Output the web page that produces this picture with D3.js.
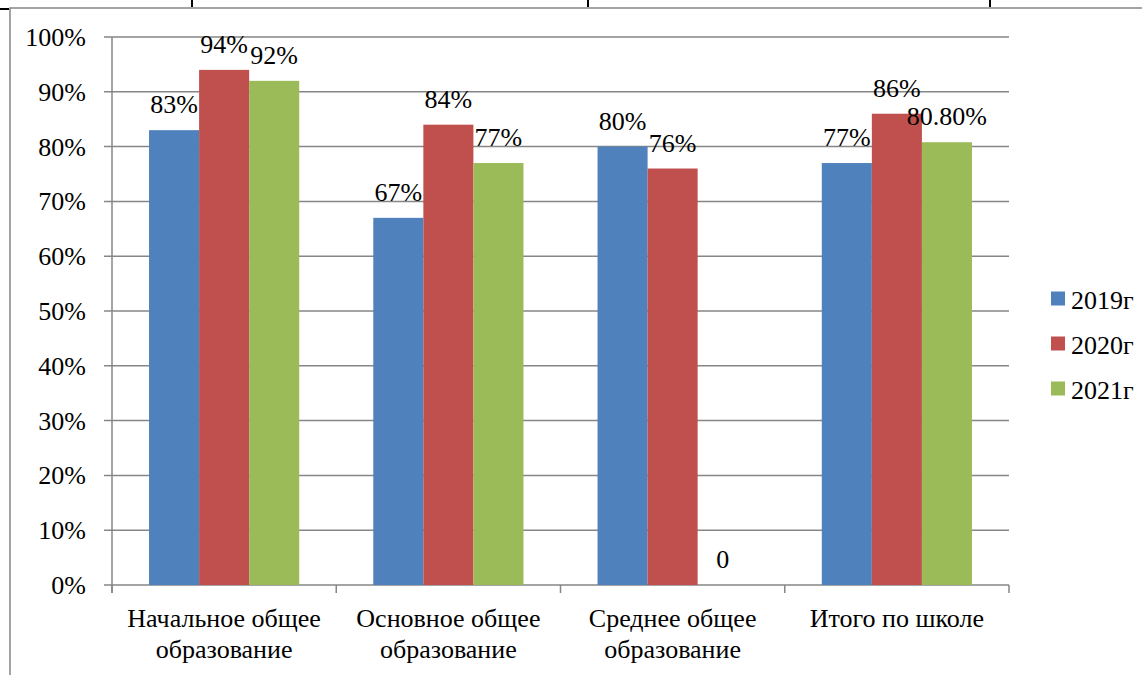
<!DOCTYPE html>
<html>
<head>
    <meta charset="utf-8">
    <title>Chart</title>
    <script src="https://d3js.org/d3.v7.min.js"></script>
    <style>
        body { margin: 0; background: #fff; }
        text {
            font-family: "Times New Roman", "Liberation Serif", serif;
            font-size: 26px;
            fill: #000;
        }
    </style>
</head>
<body>
    <div id="svg_container"></div>
    <script>
        const width = 1142;
        const height = 675;

        // data
        const categories = ["Начальное общее образование", "Основное общее образование", "Среднее общее образование", "Итого по школе"];
        const categoryLines = [["Начальное общее", "образование"], ["Основное общее", "образование"], ["Среднее общее", "образование"], ["Итого по школе"]];
        const seriesNames = ["2019г", "2020г", "2021г"];
        const values2019 = [0.83, 0.67, 0.80, 0.77];
        const values2020 = [0.94, 0.84, 0.76, 0.86];
        const values2021 = [0.92, 0.77, 0, 0.808];
        const labels2019 = ["83%", "67%", "80%", "77%"];
        const labels2020 = ["94%", "84%", "76%", "86%"];
        const labels2021 = ["92%", "77%", "0", "80.80%"];
        const yTicks = [0, 0.1, 0.2, 0.3, 0.4, 0.5, 0.6, 0.7, 0.8, 0.9, 1.0];

        const colors = ["#4f81bd", "#c0504d", "#9bbb59"];
        const allValues = [values2019, values2020, values2021];
        const allLabels = [labels2019, labels2020, labels2021];

        const svg = d3.select("#svg_container")
            .append("svg")
            .attr("width", width)
            .attr("height", height);

        // frame and table borders
        svg.append("rect")
            .attr("x", 10).attr("y", 8)
            .attr("width", width + 20).attr("height", height + 20)
            .attr("fill", "none")
            .attr("stroke", "#868686")
            .attr("stroke-width", 1.5);

        svg.append("line").attr("x1", 0).attr("x2", 9).attr("y1", 9).attr("y2", 9)
            .attr("stroke", "#000").attr("stroke-width", 2);
        [192, 588, 990].forEach(x => {
            svg.append("line").attr("x1", x).attr("x2", x).attr("y1", 0).attr("y2", 7)
                .attr("stroke", "#000").attr("stroke-width", 2);
        });

        const plotLeft = 112, plotRight = 1009, plotTop = 37, plotBottom = 585;

        const y = d3.scaleLinear().domain([0, 1]).range([plotBottom, plotTop]);
        const x0 = d3.scaleBand().domain(categories).range([plotLeft, plotRight]);
        const x1 = d3.scaleBand().domain(seriesNames).range([0, x0.bandwidth()]).paddingOuter(0.74);

        // gridlines
        svg.append("g")
            .selectAll("line")
            .data(yTicks)
            .enter()
            .append("line")
            .attr("x1", plotLeft - 8)
            .attr("x2", plotRight)
            .attr("y1", d => y(d))
            .attr("y2", d => y(d))
            .attr("stroke", "#868686")
            .attr("stroke-width", 1.5);

        // y axis
        svg.append("line")
            .attr("x1", plotLeft).attr("x2", plotLeft)
            .attr("y1", plotTop).attr("y2", plotBottom + 8)
            .attr("stroke", "#868686").attr("stroke-width", 1.5);

        svg.append("g")
            .selectAll("text")
            .data(yTicks)
            .enter()
            .append("text")
            .attr("x", 86)
            .attr("y", d => y(d) + 9)
            .attr("text-anchor", "end")
            .text(d => d3.format(".0%")(d));

        // x axis ticks at category boundaries
        const boundaries = categories.map(c => x0(c)).concat([plotRight]);
        svg.append("g")
            .selectAll("line")
            .data(boundaries)
            .enter()
            .append("line")
            .attr("x1", d => d).attr("x2", d => d)
            .attr("y1", plotBottom).attr("y2", plotBottom + 8)
            .attr("stroke", "#868686").attr("stroke-width", 1.5);

        // bars
        seriesNames.forEach((s, si) => {
            svg.append("g")
                .selectAll("rect")
                .data(categories)
                .enter()
                .append("rect")
                .attr("x", c => x0(c) + x1(s))
                .attr("width", x1.bandwidth())
                .attr("y", (c, i) => y(allValues[si][i]))
                .attr("height", (c, i) => y(0) - y(allValues[si][i]))
                .attr("fill", colors[si]);
        });

        // data labels
        seriesNames.forEach((s, si) => {
            svg.append("g")
                .selectAll("text")
                .data(categories)
                .enter()
                .append("text")
                .attr("x", c => x0(c) + x1(s) + x1.bandwidth() / 2)
                .attr("y", (c, i) => y(allValues[si][i]) - 17)
                .attr("text-anchor", "middle")
                .text((c, i) => allLabels[si][i]);
        });

        // category labels
        categories.forEach((c, i) => {
            const t = svg.append("text")
                .attr("text-anchor", "middle")
                .attr("x", x0(c) + x0.bandwidth() / 2)
                .attr("y", 627);
            categoryLines[i].forEach((line, li) => {
                t.append("tspan")
                    .attr("x", x0(c) + x0.bandwidth() / 2)
                    .attr("dy", li === 0 ? 0 : 31)
                    .text(line);
            });
        });

        // legend
        const legend = svg.append("g")
            .selectAll("g")
            .data(seriesNames)
            .enter()
            .append("g")
            .attr("transform", (d, i) => "translate(1051," + (298.5 + i * 45) + ")");

        legend.append("rect")
            .attr("x", 0).attr("y", -7)
            .attr("width", 14).attr("height", 14)
            .attr("fill", (d, i) => colors[i]);

        legend.append("text")
            .attr("x", 20)
            .attr("y", 10.5)
            .text(d => d);
    </script>
</body>
</html>
